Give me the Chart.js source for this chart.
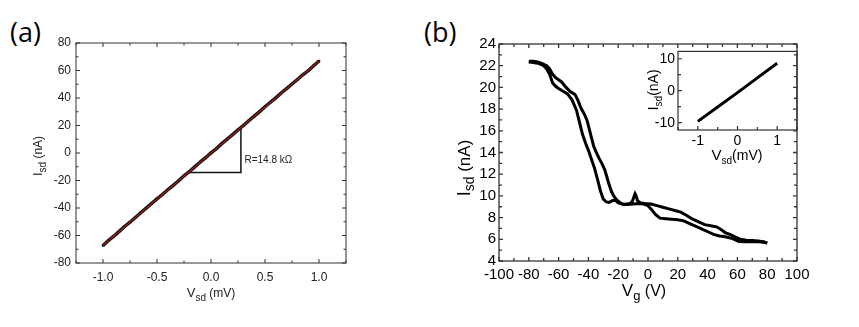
<!DOCTYPE html>
<html>
<head>
<meta charset="utf-8">
<script src="https://cdn.jsdelivr.net/npm/chart.js@4.4.1/dist/chart.umd.min.js"></script>
<style>
  body { margin: 0; background: #fff; width: 859px; height: 327px; position: relative; overflow: hidden; }
  canvas { position: absolute; }
  .tag { position: absolute; font-family: "Open Sans", sans-serif; font-size: 27px; line-height: 27px; color: #000; }
</style>
</head>
<body>
<div class="tag" style="left:10px;top:18px">(a)</div>
<div class="tag" style="left:424px;top:18px">(b)</div>
<canvas id="chartA" width="420" height="327" style="left:0;top:0"></canvas>
<canvas id="chartB" width="439" height="327" style="left:420px;top:0"></canvas>
<canvas id="chartIn" width="175" height="135" style="left:630px;top:40px"></canvas>
<script>
// (a) I-V curve, data + linear fit
const vsdA = [-1.00, -0.95, -0.90, -0.85, -0.80, -0.75, -0.70, -0.65, -0.60, -0.55, -0.50,
              -0.45, -0.40, -0.35, -0.30, -0.25, -0.20, -0.15, -0.10, -0.05, 0.00,
              0.05, 0.10, 0.15, 0.20, 0.25, 0.30, 0.35, 0.40, 0.45, 0.50,
              0.55, 0.60, 0.65, 0.70, 0.75, 0.80, 0.85, 0.90, 0.95, 1.00];
const isdA = [-67.3, -63.6, -60.5, -57.0, -53.4, -50.3, -46.9, -43.4, -40.1, -36.7, -33.4,
              -30.2, -26.7, -23.5, -20.2, -16.6, -13.5, -10.1, -6.6, -3.4, 0.1,
              3.2, 6.8, 10.1, 13.4, 16.8, 20.0, 23.5, 26.8, 30.1, 33.6,
              36.9, 40.1, 43.6, 46.8, 50.2, 53.4, 56.9, 59.8, 63.4, 66.9];
const fitV = [-1.0, 1.0];
const fitI = [-67.0, 66.8];
const triV = [-0.207, 0.277, 0.277];
const triI = [-14.1, -14.1, 18.5];
const xTicksA = [-1.0, -0.5, 0.0, 0.5, 1.0];
const yTicksA = [-80, -60, -40, -20, 0, 20, 40, 60, 80];

// (b) gate sweep, two branches of the loop
const vgA = [-80, -77, -73, -70, -68, -66, -64, -62, -60, -57, -54, -51, -48, -46, -44, -42, -40,
             -38, -36, -34, -32, -30, -28, -26, -24, -22, -20, -17, -14, -10, -6, -3, 0, 2, 5, 8,
             12, 16, 20, 24, 28, 33, 37, 41, 44, 48, 51, 56, 61, 66, 70, 74, 78, 80];
const isdBa = [22.35, 22.3, 22.2, 22.0, 21.7, 21.2, 20.4, 20.1, 19.9, 19.65, 19.4, 18.85, 17.9, 16.8, 15.7, 14.9, 14.2,
               13.4, 12.6, 11.6, 10.5, 9.7, 9.45, 9.4, 9.55, 9.6, 9.35, 9.25, 9.2, 9.25, 9.3, 9.25, 9.1, 8.8, 8.3, 7.95,
               7.9, 7.85, 7.8, 7.7, 7.45, 7.15, 6.9, 6.65, 6.45, 6.3, 6.25, 6.1, 5.8, 5.78, 5.8, 5.77, 5.72, 5.65];
const vgB = [-80, -77, -74, -71, -68, -66, -64, -62, -60, -58, -55, -52, -49, -47, -45, -43, -41, -39.5,
             -38, -36.5, -35, -33, -31, -29, -27.5, -26, -24.5, -23, -21.5, -20, -18, -16, -14, -12,
             -10.5, -9.5, -8.7, -8, -7, -5, -2, 2, 6, 10, 14, 18, 22, 26, 30, 34, 38, 42, 46, 49,
             52, 55, 58, 62, 66, 70, 74, 78, 80];
const isdBb = [22.4, 22.4, 22.35, 22.2, 22.0, 21.7, 21.2, 20.9, 20.7, 20.5, 20.0, 19.6, 19.35, 18.8, 18.1, 17.6, 17.0, 16.2,
               15.4, 14.6, 14.1, 13.5, 13.0, 12.4, 11.7, 11.0, 10.4, 10.0, 9.7, 9.5, 9.3, 9.2, 9.25, 9.3,
               9.5, 9.9, 10.2, 10.0, 9.55, 9.35, 9.3, 9.25, 9.1, 8.95, 8.8, 8.65, 8.5, 8.2, 7.85, 7.6, 7.35, 7.25, 7.15, 6.9,
               6.6, 6.45, 6.25, 6.0, 5.92, 5.9, 5.85, 5.75, 5.65];
const xTicksB = [-100, -80, -60, -40, -20, 0, 20, 40, 60, 80, 100];
const yTicksB = [4, 6, 8, 10, 12, 14, 16, 18, 20, 22, 24];

// inset of (b)
const vsdIn = [-1.0, -0.5, 0.0, 0.5, 1.0];
const isdIn = [-9.6, -5.1, -0.6, 4.0, 8.6];
const xTicksIn = [-1, 0, 1];
const yTicksIn = [-10, 0, 10];

const FONT = '"Liberation Sans", Arial, sans-serif';
const pts = (xs, ys) => xs.map((v, i) => ({ x: v, y: ys[i] }));

// box round the plot with inward ticks
const frame = {
  id: 'frame',
  afterDatasetsDraw(chart, args, o) {
    const { ctx, chartArea: a, scales: { x, y } } = chart;
    ctx.save();
    ctx.strokeStyle = o.color;
    ctx.lineWidth = o.width;
    ctx.strokeRect(a.left, a.top, a.right - a.left, a.bottom - a.top);
    const isMajor = (s, v) => s.ticks.some(t => Math.abs(t.value - v) < 1e-6);
    ctx.beginPath();
    for (let v = Math.ceil(x.min / o.xMinor - 1e-6) * o.xMinor; v <= x.max + 1e-6; v += o.xMinor) {
      const px = x.getPixelForValue(v);
      const len = isMajor(x, v) ? o.major : o.minor;
      ctx.moveTo(px, a.bottom); ctx.lineTo(px, a.bottom - len);
      if (o.mirror) { ctx.moveTo(px, a.top); ctx.lineTo(px, a.top + len); }
    }
    for (let v = Math.ceil(y.min / o.yMinor - 1e-6) * o.yMinor; v <= y.max + 1e-6; v += o.yMinor) {
      const py = y.getPixelForValue(v);
      const len = isMajor(y, v) ? o.major : o.minor;
      ctx.moveTo(a.left, py); ctx.lineTo(a.left + len, py);
      if (o.mirror) { ctx.moveTo(a.right, py); ctx.lineTo(a.right - len, py); }
    }
    ctx.stroke();
    ctx.restore();
  }
};

// axis titles with subscripts, plus free notes
function drawLabel(ctx, parts, cx, cy, rot, color) {
  ctx.save();
  ctx.translate(cx, cy);
  if (rot) ctx.rotate(-Math.PI / 2);
  let w = 0;
  parts.forEach(p => { ctx.font = p.size + 'px ' + FONT; w += ctx.measureText(p.t).width; });
  let xx = -w / 2;
  ctx.fillStyle = color;
  ctx.textBaseline = 'alphabetic';
  parts.forEach(p => {
    ctx.font = p.size + 'px ' + FONT;
    ctx.fillText(p.t, xx, p.dy || 0);
    xx += ctx.measureText(p.t).width;
  });
  ctx.restore();
}
const titles = {
  id: 'titles',
  afterDraw(chart, args, o) {
    (o.items || []).forEach(it => drawLabel(chart.ctx, it.parts, it.x, it.y, it.rot, o.color));
    if (o.note) {
      const { ctx, scales: { x, y } } = chart;
      ctx.save();
      ctx.font = o.note.size + 'px ' + FONT;
      ctx.fillStyle = o.color;
      ctx.textBaseline = 'middle';
      ctx.fillText(o.note.text, x.getPixelForValue(o.note.x), y.getPixelForValue(o.note.y));
      ctx.restore();
    }
  }
};

function axis(min, max, tickVals, fmt, size, color, pad, fit, isX) {
  return {
    type: 'linear', min, max,
    afterBuildTicks: s => { s.ticks = tickVals.map(v => ({ value: v })); },
    afterFit: s => { if (isX) s.height = fit; else s.width = fit; },
    ticks: { callback: fmt, font: { family: FONT, size }, color, padding: pad, maxRotation: 0, autoSkip: false },
    grid: { display: false, drawTicks: false },
    border: { display: false }
  };
}

const base = (padding, scales, plugins) => ({
  responsive: false, animation: false, devicePixelRatio: 1,
  layout: { padding },
  scales,
  plugins: Object.assign({ legend: { display: false }, tooltip: { enabled: false } }, plugins)
});

new Chart(document.getElementById('chartA'), {
  type: 'scatter',
  data: {
    datasets: [
      { data: pts(vsdA, isdA), showLine: true, borderColor: '#111', borderWidth: 3.4, pointRadius: 1.7,
        pointStyle: 'rect', pointBackgroundColor: '#111', pointBorderWidth: 0, order: 2 },
      { data: pts(fitV, fitI), showLine: true, borderColor: '#b3201a', borderWidth: 1.2, pointRadius: 0, order: 0 },
      { data: pts(triV, triI), showLine: true, borderColor: '#111', borderWidth: 1.5, pointRadius: 0, order: 1 }
    ]
  },
  options: base({ top: 43, right: 74, left: 0, bottom: 0 }, {
    x: axis(-1.25, 1.25, xTicksA, v => v.toFixed(1), 12, '#222', 7, 64, true),
    y: axis(-80, 80, yTicksA, v => String(v), 12, '#222', 5, 76, false)
  }, {
    frame: { color: '#333', width: 1, xMinor: 0.25, yMinor: 10, major: 4, minor: 2.5, mirror: true },
    titles: {
      color: '#222',
      items: [
        { parts: [{ t: 'V', size: 13 }, { t: 'sd', size: 10, dy: 4 }, { t: ' (mV)', size: 12 }], x: 211, y: 297 },
        { parts: [{ t: 'I', size: 13 }, { t: 'sd', size: 10, dy: 4 }, { t: ' (nA)', size: 12 }], x: 42, y: 156, rot: true }
      ],
      note: { text: 'R=14.8 k\u03A9', x: 0.31, y: -5.6, size: 10 }
    }
  }),
  plugins: [frame, titles]
});

new Chart(document.getElementById('chartB'), {
  type: 'scatter',
  data: {
    datasets: [
      { data: pts(vgA, isdBa), showLine: true, borderColor: '#000', borderWidth: 3, pointRadius: 0 },
      { data: pts(vgB, isdBb), showLine: true, borderColor: '#000', borderWidth: 3, pointRadius: 0 }
    ]
  },
  options: base({ top: 44, right: 62, left: 0, bottom: 0 }, {
    x: axis(-100, 100, xTicksB, v => String(v), 15, '#000', 5, 66, true),
    y: axis(4, 24, yTicksB, v => String(v), 15, '#000', 3, 79, false)
  }, {
    frame: { color: '#333', width: 1.3, xMinor: 10, yMinor: 1, major: 4, minor: 3, mirror: true },
    titles: {
      color: '#000',
      items: [
        { parts: [{ t: 'V', size: 17 }, { t: 'g', size: 13, dy: 4 }, { t: ' (V)', size: 16 }], x: 224, y: 296 },
        { parts: [{ t: 'I', size: 18 }, { t: 'sd', size: 14, dy: 4 }, { t: ' (nA)', size: 17 }], x: 50, y: 168, rot: true }
      ]
    }
  }),
  plugins: [frame, titles]
});

new Chart(document.getElementById('chartIn'), {
  type: 'scatter',
  data: {
    datasets: [
      { data: pts(vsdIn, isdIn), showLine: true, borderColor: '#000', borderWidth: 3, pointRadius: 0 }
    ]
  },
  options: base({ top: 4, right: 8, left: 0, bottom: 0 }, {
    x: axis(-1.5, 1.5, xTicksIn, v => String(v), 14, '#000', 3, 45, true),
    y: axis(-12.3, 12.3, yTicksIn, v => String(v), 14, '#000', 3, 48, false)
  }, {
    frame: { color: '#333', width: 1.2, xMinor: 0.5, yMinor: 5, major: 4, minor: 3, mirror: false },
    titles: {
      color: '#000',
      items: [
        { parts: [{ t: 'V', size: 15 }, { t: 'sd', size: 10, dy: 4 }, { t: '(mV)', size: 14 }], x: 107, y: 120 },
        { parts: [{ t: 'I', size: 15 }, { t: 'sd', size: 10, dy: 4 }, { t: '(nA)', size: 14 }], x: 28, y: 50, rot: true }
      ]
    }
  }),
  plugins: [frame, titles]
});
</script>
</body>
</html>
